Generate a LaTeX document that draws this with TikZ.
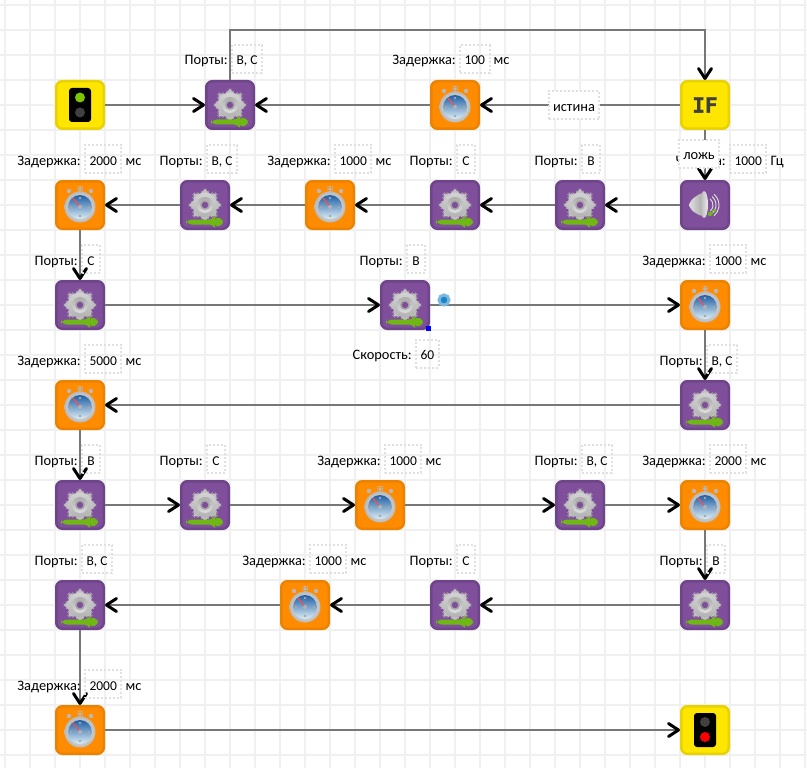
\documentclass[tikz,border=0pt]{standalone}
\usepackage{fontspec}
\setmainfont{Carlito}
\newfontfamily\iffont[FakeBold=1.5]{DejaVu Sans Mono Bold}
\usetikzlibrary{arrows.meta,positioning}

\definecolor{gridgray}{HTML}{F0F0F0}
\definecolor{wiregray}{HTML}{777777}
\definecolor{dotgray}{HTML}{E0E0E0}
\definecolor{motorpurple}{HTML}{7F4F9B}
\definecolor{motoredge}{HTML}{6F4589}
\definecolor{delayorange}{HTML}{FF8C00}
\definecolor{delayedge}{HTML}{EC8300}
\definecolor{lampyellow}{HTML}{FFE600}
\definecolor{lampedge}{HTML}{E8D200}
\definecolor{arrowgreen}{HTML}{6FB814}
\definecolor{lampgreen}{HTML}{7FC400}
\definecolor{dialtop}{HTML}{1F5FA5}
\definecolor{dialmid}{HTML}{6FB0D8}
\definecolor{dialbottom}{HTML}{DCEEF5}
\definecolor{pickblue}{HTML}{1A85C8}
\definecolor{pickhalo}{HTML}{7AB8E0}

\tikzset{
    gridline/.style={line width=2pt, gridgray},
    wire/.style={line width=2pt, wiregray},
    flow/.style={wire, -{Straight Barb[black, line width=3pt, length=10pt, width=13pt, round]}},
    block/.style={rectangle, rounded corners=6pt, minimum size=47.5pt, inner sep=0pt, line width=2.5pt},
    motorblock/.style={block, fill=motorpurple, draw=motoredge, path picture={
        \begin{scope}[shift={(path picture bounding box.center)}]
            % gear
            \begin{scope}[shift={(0,-2)}]
                \foreach \ang in {0,45,...,315}
                    \fill[gray!50] (\ang-26:10) -- (\ang-12:16.5) -- (\ang+12:16.5) -- (\ang+26:10) -- cycle;
                \shade[top color=gray!35, bottom color=gray!60] (0,0) circle (12.5);
                \shade[top color=gray!65, bottom color=gray!25] (0,0) circle (8);
                \fill[gray!70] (0,0) circle (5);
                \fill[motorpurple] (0,0) circle (3.2);
            \end{scope}
            % green arrow
            \fill[arrowgreen] (-19,14.5) -- (10,14.5) -- (10,10.5) -- (21,17) -- (10,23.5) -- (10,19.5) -- (-19,19.5) -- cycle;
        \end{scope}}},
    delayblock/.style={block, fill=delayorange, draw=delayedge, path picture={
        \begin{scope}[shift={(path picture bounding box.center)}]
            \fill[gray!55] (-2.5,-19) rectangle (2.5,-13);
            \fill[gray!55] (-11,-14) circle (2.2);
            \fill[gray!55] (11,-14) circle (2.2);
            \shade[inner color=white, outer color=gray!55] (0,2) circle (15.5);
            \shade[top color=dialtop, middle color=dialmid, bottom color=dialbottom] (0,2) circle (12);
            \foreach \ang in {0,90,180,270}
                \fill[gray!70] (\ang:9) ++(0,2) circle (1.3);
            \draw[line width=1.2pt, red!70!white] (0,2) -- (-7,-7);
            \fill[gray!60] (0,2) circle (2);
        \end{scope}}},
    startblock/.style={block, fill=lampyellow, draw=lampedge, path picture={
        \begin{scope}[shift={(path picture bounding box.center)}]
            \fill[black, rounded corners=3pt] (-11,-17) rectangle (11,17);
            \fill[lampgreen] (0,-7.5) circle (5);
            \fill[black!75] (0,7.5) circle (5);
        \end{scope}}},
    stopblock/.style={block, fill=lampyellow, draw=lampedge, path picture={
        \begin{scope}[shift={(path picture bounding box.center)}]
            \fill[black, rounded corners=3pt] (-11,-17) rectangle (11,17);
            \fill[black!75] (0,-8) circle (5);
            \fill[red] (0,7) circle (5);
        \end{scope}}},
    soundblock/.style={block, fill=motorpurple, draw=motoredge, path picture={
        \begin{scope}[shift={(path picture bounding box.center)}]
            % cone
            \shade[left color=gray!25, right color=gray!70] (-16,-4) -- (-1,-14) -- (-1,13) -- (-16,4) -- cycle;
            \shade[left color=gray!60, right color=gray!15] (-1,-0.5) ellipse (4 and 13.5);
            % waves
            \foreach \r in {8,11,14}
                \draw[line width=1pt, gray!30, shift={(-1,-1)}] (-50:\r) arc[start angle=-50, end angle=50, radius=\r];
            % note
            \fill[arrowgreen] (5,9) circle (2.2);
            \draw[line width=1.2pt, arrowgreen] (7,9) -- (7.5,2) -- (10,5);
        \end{scope}}},
    ifblock/.style={block, fill=lampyellow, draw=lampedge, text=black!75, font=\iffont\fontsize{21}{21}\selectfont},
    capt/.style={inner sep=0pt, text height=14pt, text depth=2pt, font=\fontsize{14.4}{16}\selectfont},
    valbox/.style={capt, draw=dotgray, dotted, line width=2pt, inner xsep=4.5pt, minimum height=28pt, minimum width=18pt, font=\fontsize{13.5}{16}\selectfont},
    wirebox/.style={valbox, fill=white, font=\fontsize{14.4}{16}\selectfont},
    pickdot/.style={circle, inner sep=0pt, minimum size=10pt, fill=pickblue, draw=pickhalo, line width=3pt},
    cornerdot/.style={rectangle, inner sep=0pt, minimum size=5pt, fill=blue}
}

% caption and value above a motor block
\newcommand{\portnote}[2]{
    \node[valbox, anchor=west] (#1val) at ([shift={(1,-46)}]#1) {#2};
    \node[capt, left=3pt of #1val.west] (#1cap) {Порты:};
}
% caption, value and unit above a delay block
\newcommand{\delaynote}[2]{
    \node[valbox, anchor=west] (#1val) at ([shift={(4,-46)}]#1) {#2};
    \node[capt, left=3pt of #1val.west] (#1cap) {Задержка:};
    \node[capt, right=3pt of #1val.east] (#1unit) {мс};
}

\begin{document}
\begin{tikzpicture}[x=1pt, y=-1pt]
    \useasboundingbox (0,0) rectangle (807,768);

    % Grid
    \foreach \gx in {5,30,...,805}
        \draw[gridline] (\gx,0) -- (\gx,768);
    \foreach \gy in {5,30,...,755}
        \draw[gridline] (0,\gy) -- (807,\gy);

    % Row 1
    \node[startblock] (start) at (80,105) {};
    \node[motorblock] (motorA) at (230,105) {};
    \node[delayblock] (delayA) at (455,105) {};
    \node[ifblock] (cond) at (705,105) {IF};

    % Row 2
    \node[delayblock] (delayC) at (80,205) {};
    \node[motorblock] (motorD) at (205,205) {};
    \node[delayblock] (delayB) at (330,205) {};
    \node[motorblock] (motorC) at (455,205) {};
    \node[motorblock] (motorB) at (580,205) {};
    \node[soundblock] (sound) at (705,205) {};

    % Row 3
    \node[motorblock] (motorE) at (80,305) {};
    \node[motorblock] (motorF) at (405,305) {};
    \node[delayblock] (delayD) at (705,305) {};

    % Row 4
    \node[delayblock] (delayE) at (80,405) {};
    \node[motorblock] (motorG) at (705,405) {};

    % Row 5
    \node[motorblock] (motorH) at (80,505) {};
    \node[motorblock] (motorI) at (205,505) {};
    \node[delayblock] (delayF) at (380,505) {};
    \node[motorblock] (motorJ) at (580,505) {};
    \node[delayblock] (delayG) at (705,505) {};

    % Row 6
    \node[motorblock] (motorM) at (80,605) {};
    \node[delayblock] (delayH) at (305,605) {};
    \node[motorblock] (motorL) at (455,605) {};
    \node[motorblock] (motorK) at (705,605) {};

    % Row 7
    \node[delayblock] (delayI) at (80,730) {};
    \node[stopblock] (stop) at (705,730) {};

    % Connectors
    \coordinate (toprun) at (467,30);
    \draw[flow] (start) -- (motorA);
    \draw[flow] (delayA) -- (motorA);
    \draw[flow] (cond) -- (delayA);
    \draw[flow] (motorA.north) |- (toprun) -| (cond.north);
    \draw[flow] (cond) -- (sound);
    \draw[flow] (sound) -- (motorB);
    \draw[flow] (motorB) -- (motorC);
    \draw[flow] (motorC) -- (delayB);
    \draw[flow] (delayB) -- (motorD);
    \draw[flow] (motorD) -- (delayC);
    \draw[flow] (delayC) -- (motorE);
    \draw[flow] (motorE) -- (motorF);
    \draw[flow] (motorF) -- (delayD);
    \draw[flow] (delayD) -- (motorG);
    \draw[flow] (motorG) -- (delayE);
    \draw[flow] (delayE) -- (motorH);
    \draw[flow] (motorH) -- (motorI);
    \draw[flow] (motorI) -- (delayF);
    \draw[flow] (delayF) -- (motorJ);
    \draw[flow] (motorJ) -- (delayG);
    \draw[flow] (delayG) -- (motorK);
    \draw[flow] (motorK) -- (motorL);
    \draw[flow] (motorL) -- (delayH);
    \draw[flow] (delayH) -- (motorM);
    \draw[flow] (motorM) -- (delayI);
    \draw[flow] (delayI) -- (stop);

    % Labels row 1
    \portnote{motorA}{В, С}
    \delaynote{delayA}{100}

    % Labels row 2
    \delaynote{delayC}{2000}
    \portnote{motorD}{В, С}
    \delaynote{delayB}{1000}
    \portnote{motorC}{С}
    \portnote{motorB}{В}
    \node[valbox, anchor=west] (soundval) at (729,159) {1000};
    \node[capt, left=3pt of soundval.west] (soundcap) {Частота:};
    \node[capt, right=3pt of soundval.east] (soundunit) {Гц};

    % Labels row 3
    \portnote{motorE}{С}
    \portnote{motorF}{В}
    \delaynote{delayD}{1000}
    \node[valbox, anchor=west] (speedval) at (415,353.5) {60};
    \node[capt, left=3pt of speedval.west] (speedcap) {Скорость:};

    % Labels row 4
    \delaynote{delayE}{5000}
    \portnote{motorG}{В, С}

    % Labels row 5
    \portnote{motorH}{В}
    \portnote{motorI}{С}
    \delaynote{delayF}{1000}
    \portnote{motorJ}{В, С}
    \delaynote{delayG}{2000}

    % Labels row 6
    \portnote{motorM}{В, С}
    \delaynote{delayH}{1000}
    \portnote{motorL}{С}
    \portnote{motorK}{В}

    % Labels row 7
    \delaynote{delayI}{2000}

    % Wire labels
    \node[wirebox] (truelabel) at (574,105) {истина};
    \node[wirebox] (falselabel) at (699,154) {ложь};

    % Selection marks on motor
    \node[pickdot] (pick) at (444,300) {};
    \node[cornerdot] (corner) at (428,328) {};
\end{tikzpicture}
\end{document}
